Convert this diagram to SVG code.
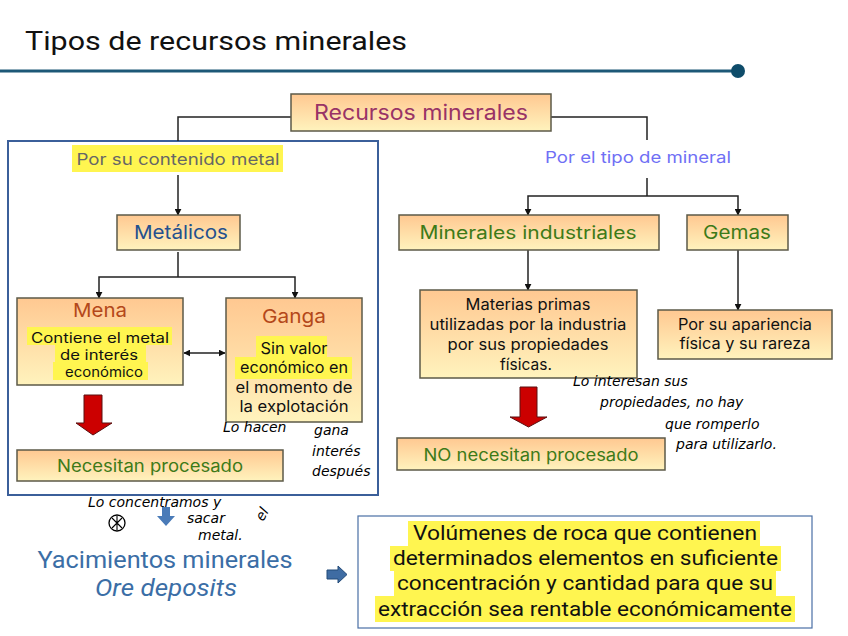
<svg xmlns="http://www.w3.org/2000/svg" width="848" height="636" viewBox="0 0 848 636">
<defs>
<linearGradient id="g" x1="0" y1="0" x2="0" y2="1">
<stop offset="0" stop-color="#ffc891"/>
<stop offset="1" stop-color="#fff3bd"/>
</linearGradient>
<marker id="ah" viewBox="0 0 10 10" refX="9" refY="5" markerWidth="7" markerHeight="7" orient="auto-start-reverse" markerUnits="userSpaceOnUse">
<path d="M0,0 L10,5 L0,10 z" fill="#111"/>
</marker>
<style>
.box{fill:url(#g);stroke:#5c5a48;stroke-width:1.5}
.t{font-family:Inter,"Noto Sans","Liberation Sans",sans-serif;text-anchor:middle}
.n{font-family:Roboto,"Liberation Sans",sans-serif;text-anchor:middle}
.hl{fill:#fff550}
.c{fill:none;stroke:#222;stroke-width:1.5}
.hw{font-family:"DejaVu Sans",sans-serif;font-style:italic;font-size:14px;fill:#000}
.red{fill:#cc0000;stroke:#5a1010;stroke-width:1}
</style>
</defs>
<rect width="848" height="636" fill="#fff"/>

<g id="title">
<text x="25" y="50" font-family="Roboto,'Liberation Sans',sans-serif" font-size="26" fill="#111" textLength="382" lengthAdjust="spacingAndGlyphs">Tipos de recursos minerales</text>
<line x1="0" y1="71" x2="738" y2="71" stroke="#1d5877" stroke-width="3"/>
<circle cx="738" cy="71" r="7" fill="#0e4c6a"/>
</g>

<g id="frame">
<rect x="8" y="141" width="370" height="354" fill="none" stroke="#3b5f9a" stroke-width="2"/>
</g>

<g id="connectors">
<polyline class="c" points="291,117 178,117 178,141"/>
<line class="c" x1="178" y1="175" x2="178" y2="215" marker-end="url(#ah)"/>
<polyline class="c" points="551,117 647,117 647,140"/>
<line class="c" x1="647" y1="178" x2="647" y2="196"/>
<polyline class="c" points="528,215 528,196 738,196 738,215" marker-start="url(#ah)" marker-end="url(#ah)"/>
<line class="c" x1="178" y1="252" x2="178" y2="277"/>
<polyline class="c" points="99,298 99,277 295,277 295,298" marker-start="url(#ah)" marker-end="url(#ah)"/>
<line class="c" x1="184" y1="353" x2="225" y2="353" marker-start="url(#ah)" marker-end="url(#ah)"/>
<line class="c" x1="528" y1="250" x2="528" y2="290" marker-end="url(#ah)"/>
<line class="c" x1="738" y1="250" x2="738" y2="310" marker-end="url(#ah)"/>
<path class="red" d="M84,395 H102 V423 H112 L93,435 L76,423 H84 Z"/>
<path class="red" d="M520,387 H537 V417 H547 L528.5,427 L510,417 H520 Z"/>
<path d="M162,507 H170 V516 H175 L166,526 L157,516 H162 Z" fill="#4a7bb8"/>
<path d="M327,570 H338 V566 L347,574.5 L338,583 V579 H327 Z" fill="#3f6ca3" stroke="#234a78" stroke-width="1"/>
</g>

<g id="recursos">
<rect class="box" x="291" y="94" width="260" height="37"/>
<text class="t" x="421" y="120" font-size="21" fill="#993366" textLength="214" lengthAdjust="spacingAndGlyphs">Recursos minerales</text>
</g>

<g id="por-contenido">
<rect class="hl" x="72" y="145" width="211" height="27"/>
<text class="t" x="178" y="165" font-size="16" fill="#666" textLength="203" lengthAdjust="spacingAndGlyphs">Por su contenido metal</text>
</g>

<g id="por-tipo">
<text class="t" x="638" y="163" font-size="16" fill="#6f6ff5" textLength="186" lengthAdjust="spacingAndGlyphs">Por el tipo de mineral</text>
</g>

<g id="metalicos">
<rect class="box" x="117" y="215" width="123" height="35"/>
<text class="t" x="181" y="239" font-size="19" fill="#24508e" textLength="94" lengthAdjust="spacingAndGlyphs">Metálicos</text>
</g>

<g id="mena">
<rect class="box" x="17" y="298" width="166" height="87"/>
<text class="t" x="100" y="317" font-size="19" fill="#b4481a" textLength="54" lengthAdjust="spacingAndGlyphs">Mena</text>
<rect class="hl" x="27" y="327" width="145" height="18"/>
<rect class="hl" x="55" y="345" width="91" height="17"/>
<rect class="hl" x="53" y="362" width="95" height="18"/>
<text class="t" x="100" y="343" font-size="14" fill="#111" textLength="138" lengthAdjust="spacingAndGlyphs">Contiene el metal</text>
<text class="t" x="99" y="360" font-size="14" fill="#111" textLength="78" lengthAdjust="spacingAndGlyphs">de interés</text>
<text class="t" x="104" y="377" font-size="14" fill="#111" textLength="78" lengthAdjust="spacingAndGlyphs">económico</text>
</g>

<g id="ganga">
<rect class="box" x="226" y="298" width="136" height="124"/>
<text class="t" x="294" y="323" font-size="19" fill="#b4481a" textLength="64" lengthAdjust="spacingAndGlyphs">Ganga</text>
<rect class="hl" x="256" y="336" width="71" height="21"/>
<rect class="hl" x="235" y="357" width="117" height="22"/>
<text class="t" x="294" y="354" font-size="15.5" fill="#111" textLength="67" lengthAdjust="spacingAndGlyphs">Sin valor</text>
<text class="t" x="294" y="373" font-size="15.5" fill="#111" textLength="108" lengthAdjust="spacingAndGlyphs">económico en</text>
<text class="t" x="294" y="393" font-size="15.5" fill="#111" textLength="117" lengthAdjust="spacingAndGlyphs">el momento de</text>
<text class="t" x="294" y="412" font-size="15.5" fill="#111" textLength="109" lengthAdjust="spacingAndGlyphs">la explotación</text>
</g>

<g id="necesitan">
<rect class="box" x="17" y="450" width="266" height="31"/>
<text class="t" x="150" y="472" font-size="17" fill="#3d7a18" textLength="186" lengthAdjust="spacingAndGlyphs">Necesitan procesado</text>
</g>

<g id="industriales">
<rect class="box" x="399" y="215" width="260" height="35"/>
<text class="t" x="528" y="239" font-size="18" fill="#3d7a18" textLength="217" lengthAdjust="spacingAndGlyphs">Minerales industriales</text>
</g>

<g id="gemas">
<rect class="box" x="687" y="215" width="101" height="35"/>
<text class="t" x="737" y="239" font-size="18.5" fill="#3d7a18" textLength="68" lengthAdjust="spacingAndGlyphs">Gemas</text>
</g>

<g id="materias">
<rect class="box" x="420" y="290" width="217" height="88"/>
<text class="t" x="528" y="310" font-size="15.5" fill="#111" textLength="125" lengthAdjust="spacingAndGlyphs">Materias primas</text>
<text class="t" x="528" y="330" font-size="15.5" fill="#111" textLength="197" lengthAdjust="spacingAndGlyphs">utilizadas por la industria</text>
<text class="t" x="528" y="350" font-size="15.5" fill="#111" textLength="161" lengthAdjust="spacingAndGlyphs">por sus propiedades</text>
<text class="t" x="526" y="370" font-size="15.5" fill="#111">físicas.</text>
</g>

<g id="apariencia">
<rect class="box" x="658" y="310" width="174" height="49"/>
<text class="t" x="745" y="330" font-size="15.5" fill="#111" textLength="134" lengthAdjust="spacingAndGlyphs">Por su apariencia</text>
<text class="t" x="745" y="349" font-size="15.5" fill="#111" textLength="131" lengthAdjust="spacingAndGlyphs">física y su rareza</text>
</g>

<g id="no-necesitan">
<rect class="box" x="397" y="438" width="268" height="32"/>
<text class="t" x="531" y="461" font-size="17" fill="#3d7a18" textLength="215" lengthAdjust="spacingAndGlyphs">NO necesitan procesado</text>
</g>

<g id="yacimientos">
<text class="n" x="165" y="568" font-size="23" fill="#3b6ea6" textLength="255" lengthAdjust="spacingAndGlyphs">Yacimientos minerales</text>
<text class="n" x="166" y="596" font-size="23" font-style="italic" fill="#3b6ea6" textLength="142" lengthAdjust="spacingAndGlyphs">Ore deposits</text>
</g>

<g id="definicion">
<rect x="358" y="516" width="454" height="112" fill="#fff" stroke="#4a6fa5" stroke-width="1.2"/>
<rect class="hl" x="408" y="521" width="352" height="25"/>
<rect class="hl" x="390" y="546" width="391" height="25"/>
<rect class="hl" x="394" y="571" width="382" height="25"/>
<rect class="hl" x="375" y="596" width="420" height="26"/>
<text class="n" x="585" y="540" font-size="20" fill="#111" textLength="344" lengthAdjust="spacingAndGlyphs">Volúmenes de roca que contienen</text>
<text class="n" x="585.5" y="565" font-size="20" fill="#111" textLength="385" lengthAdjust="spacingAndGlyphs">determinados elementos en suficiente</text>
<text class="n" x="585" y="590" font-size="20" fill="#111" textLength="376" lengthAdjust="spacingAndGlyphs">concentración y cantidad para que su</text>
<text class="n" x="585" y="616" font-size="20" fill="#111" textLength="414" lengthAdjust="spacingAndGlyphs">extracción sea rentable económicamente</text>
</g>

<g id="notas">
<text class="hw" x="223" y="432">Lo hacen</text>
<text class="hw" x="314" y="435">gana</text>
<text class="hw" x="312" y="456">interés</text>
<text class="hw" x="312" y="476">después</text>
<text class="hw" x="573" y="386">Lo interesan  sus</text>
<text class="hw" x="600" y="407">propiedades, no hay</text>
<text class="hw" x="665" y="429">que  romperlo</text>
<text class="hw" x="676" y="449">para  utilizarlo.</text>
<text class="hw" x="88" y="507">Lo concentramos  y</text>
<circle cx="117" cy="523" r="8" fill="none" stroke="#000" stroke-width="1.3"/>
<path d="M112,518 L122,528 M122,518 L112,528 M117,516 V530" stroke="#000" stroke-width="1.1" fill="none"/>
<text class="hw" x="187" y="523">sacar</text>
<text class="hw" x="263" y="522" transform="rotate(-60 263 522)">el</text>
<text class="hw" x="198" y="540">metal.</text>
</g>
</svg>
